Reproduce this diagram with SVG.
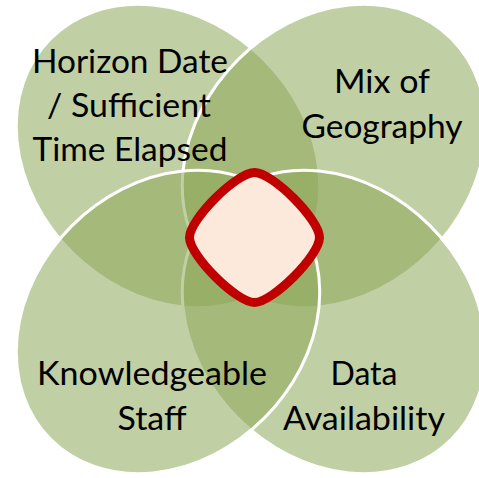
<svg xmlns="http://www.w3.org/2000/svg" width="479" height="478" viewBox="0 0 479 478">
<style>
.petal{fill:#8DA656;fill-opacity:0.54;stroke:#FFFFFF;stroke-width:3}
.lbl{font-family:Lato,"Open Sans",sans-serif;font-size:32px;fill:#000000;text-anchor:middle}
.core{fill:#FCE9DB;stroke:#C00000;stroke-width:9;stroke-linejoin:round}
</style>
<rect width="479" height="478" fill="#FFFFFF"/>
<g id="connectors"></g>
<g id="node-horizon">
<ellipse class="petal" cx="0" cy="0" rx="166" ry="136" transform="translate(168,156) rotate(45)"/>
</g>
<g id="node-geography">
<ellipse class="petal" cx="0" cy="0" rx="166" ry="136" transform="translate(334,156) rotate(-45)"/>
</g>
<g id="node-data">
<ellipse class="petal" cx="0" cy="0" rx="166" ry="136" transform="translate(334,322) rotate(45)"/>
</g>
<g id="node-staff">
<ellipse class="petal" cx="0" cy="0" rx="166" ry="136" transform="translate(168,322) rotate(-45)"/>
</g>
<g id="node-core">
<path class="core" transform="translate(254.5,237.5)" d="M0,-65 C18,-65 65,-18 65,0 C65,18 18,65 0,65 C-18,65 -65,18 -65,0 C-65,-18 -18,-65 0,-65 Z"/>
</g>
<g id="labels">
<text class="lbl" x="130" y="73" textLength="196" lengthAdjust="spacingAndGlyphs">Horizon Date</text>
<text class="lbl" x="129" y="117" textLength="164" lengthAdjust="spacingAndGlyphs">/ Sufficient</text>
<text class="lbl" x="130" y="161" textLength="195" lengthAdjust="spacingAndGlyphs">Time Elapsed</text>
<text class="lbl" x="382" y="93" textLength="96" lengthAdjust="spacingAndGlyphs">Mix of</text>
<text class="lbl" x="382" y="138" textLength="161" lengthAdjust="spacingAndGlyphs">Geography</text>
<text class="lbl" x="152" y="385" textLength="230" lengthAdjust="spacingAndGlyphs">Knowledgeable</text>
<text class="lbl" x="152" y="430" textLength="69" lengthAdjust="spacingAndGlyphs">Staff</text>
<text class="lbl" x="364" y="385" textLength="67" lengthAdjust="spacingAndGlyphs">Data</text>
<text class="lbl" x="364" y="430" textLength="162" lengthAdjust="spacingAndGlyphs">Availability</text>
</g>
</svg>
